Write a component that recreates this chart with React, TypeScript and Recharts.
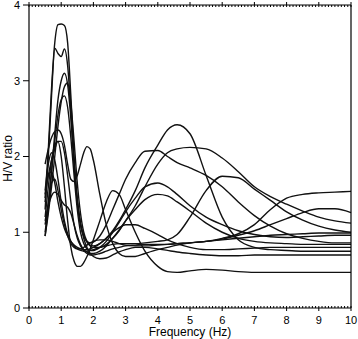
import { LineChart, Line, XAxis, YAxis } from "recharts";

const freqs = [0.5, 0.6, 0.7, 0.8, 0.9, 1.0, 1.1, 1.2, 1.3, 1.4, 1.5, 1.6, 1.7, 1.8, 1.9, 2.0, 2.2, 2.4, 2.6, 2.8, 3.0, 3.3, 3.6, 4.0, 4.3, 4.6, 5.0, 5.5, 6.0, 6.5, 7.0, 7.5, 8.0, 8.5, 9.0, 9.5, 10];

// one H/V curve per station, sampled at freqs
const st1 = [1.45, 2.1, 2.9, 3.5, 3.74, 3.75, 3.73, 3.5, 2.8, 2.0, 1.45, 1.12, 0.92, 0.8, 0.72, 0.68, 0.65, 0.66, 0.7, 0.74, 0.77, 0.8, 0.8, 0.78, 0.76, 0.74, 0.72, 0.7, 0.69, 0.69, 0.7, 0.7, 0.7, 0.7, 0.7, 0.7, 0.7];
const st2 = [1.3, 2.0, 2.8, 3.43, 3.36, 3.32, 3.42, 3.2, 2.6, 1.9, 1.4, 1.1, 0.95, 0.87, 0.83, 0.82, 0.85, 0.92, 1.02, 1.15, 1.3, 1.55, 1.85, 2.15, 2.35, 2.42, 2.3, 1.75, 1.2, 0.9, 0.8, 0.77, 0.76, 0.75, 0.75, 0.75, 0.75];
const st3 = [1.0, 1.35, 1.8, 2.3, 2.75, 3.0, 3.1, 2.95, 2.5, 1.9, 1.4, 1.1, 0.95, 0.88, 0.86, 0.87, 0.95, 1.1, 1.3, 1.5, 1.7, 1.92, 2.07, 2.08, 2.0, 1.92, 1.85, 1.75, 1.6, 1.4, 1.22, 1.08, 0.98, 0.92, 0.88, 0.86, 0.86];
const st4 = [0.95, 1.25, 1.6, 2.0, 2.4, 2.72, 2.92, 2.97, 2.7, 2.2, 1.65, 1.25, 1.0, 0.88, 0.82, 0.8, 0.8, 0.84, 0.92, 1.02, 1.15, 1.35, 1.6, 1.9, 2.05, 2.1, 2.12, 2.1, 1.98, 1.8, 1.6, 1.47, 1.37, 1.28, 1.2, 1.15, 1.12];
const st5 = [1.1, 1.4, 1.8, 2.2, 2.55, 2.75, 2.8, 2.65, 2.25, 1.75, 1.3, 1.0, 0.85, 0.78, 0.76, 0.76, 0.8, 0.88, 1.0, 1.13, 1.27, 1.45, 1.6, 1.65, 1.6, 1.5, 1.35, 1.2, 1.1, 1.02, 0.97, 0.94, 0.93, 0.94, 0.95, 0.96, 0.96];
const st6 = [1.9, 2.1, 2.25, 2.33, 2.35, 2.3, 2.15, 1.9, 1.7, 1.67, 1.75, 1.9, 2.05, 2.13, 2.1, 1.95, 1.5, 1.1, 0.85, 0.72, 0.68, 0.68, 0.72, 0.77, 0.8, 0.83, 0.86, 0.88, 0.92, 0.98, 1.1, 1.3, 1.45, 1.5, 1.52, 1.53, 1.54];
const st7 = [1.2, 1.6, 1.95, 2.15, 2.2, 2.0, 1.6, 1.15, 0.8, 0.62, 0.55, 0.55, 0.6, 0.68, 0.78, 0.9, 1.15, 1.4, 1.55, 1.5, 1.3, 1.0, 0.75, 0.55, 0.48, 0.47, 0.49, 0.51, 0.5, 0.48, 0.47, 0.47, 0.47, 0.47, 0.47, 0.47, 0.47];
const st8 = [1.15, 1.35, 1.48, 1.53, 1.5, 1.42, 1.36, 1.33, 1.25, 1.1, 0.95, 0.84, 0.77, 0.74, 0.72, 0.72, 0.75, 0.82, 0.92, 1.03, 1.15, 1.3, 1.43, 1.5, 1.48, 1.4, 1.28, 1.12, 1.0, 0.92, 0.88, 0.86, 0.85, 0.84, 0.84, 0.84, 0.84];
const st9 = [1.55, 1.9, 2.05, 1.95, 1.7, 1.4, 1.15, 0.98, 0.88, 0.82, 0.78, 0.76, 0.75, 0.75, 0.76, 0.77, 0.8, 0.82, 0.84, 0.85, 0.85, 0.85, 0.86, 0.88, 0.9, 0.97, 1.2, 1.55, 1.74, 1.72, 1.57, 1.42, 1.27, 1.16, 1.08, 1.03, 1.0];
const st10 = [1.5, 1.75, 1.95, 2.1, 2.2, 2.2, 2.05, 1.75, 1.4, 1.1, 0.92, 0.82, 0.76, 0.72, 0.7, 0.7, 0.72, 0.75, 0.78, 0.8, 0.82, 0.83, 0.84, 0.84, 0.84, 0.85, 0.86, 0.88, 0.91, 0.96, 1.02, 1.1, 1.18, 1.26, 1.31, 1.31, 1.26];
const st11 = [1.4, 1.75, 1.8, 1.65, 1.4, 1.2, 1.05, 0.95, 0.88, 0.83, 0.8, 0.78, 0.77, 0.77, 0.78, 0.8, 0.85, 0.92, 1.0, 1.06, 1.1, 1.1, 1.05, 0.97, 0.9, 0.85, 0.8, 0.77, 0.77, 0.78, 0.79, 0.8, 0.8, 0.8, 0.8, 0.8, 0.8];
const st12 = [0.95, 1.3, 1.65, 1.7, 1.55, 1.3, 1.1, 0.95, 0.85, 0.8, 0.78, 0.78, 0.8, 0.83, 0.86, 0.88, 0.9, 0.9, 0.88, 0.85, 0.83, 0.82, 0.82, 0.83, 0.84, 0.85, 0.86, 0.88, 0.9, 0.92, 0.94, 0.96, 0.97, 0.98, 0.99, 0.99, 0.99];

const stations = [st1, st2, st3, st4, st5, st6, st7, st8, st9, st10, st11, st12];

const xMajor = [0, 1, 2, 3, 4, 5, 6, 7, 8, 9, 10];
const yMajor = [0, 1, 2, 3, 4];

const xTicks = Array.from({ length: 101 }, (_, i) => i / 10);

const data = freqs.map((f, i) => {
  const row: Record<string, number> = { f };
  stations.forEach((s, k) => (row["s" + k] = s[i]));
  return row;
});

const font = "'Liberation Sans', Arial, Helvetica, sans-serif";

const isMajor = (v: number) => xMajor.includes(Math.round(v * 10) / 10);

function BottomTick(props: any) {
  const { x, y, payload } = props;
  const major = isMajor(payload.value);
  return (
    <g>
      <line x1={x} x2={x} y1={y - 2} y2={major ? y + 3 : y} stroke="#000" strokeWidth={1} />
      {major && (
        <text x={x} y={y + 16} textAnchor="middle" fontSize={11} fontFamily={font} fill="#000">
          {payload.value}
        </text>
      )}
    </g>
  );
}

function TopTick(props: any) {
  const { x, y, payload } = props;
  const major = isMajor(payload.value);
  return <line x1={x} x2={x} y1={major ? y - 3 : y} y2={y + 2} stroke="#000" strokeWidth={1} />;
}

export default function App() {
  return (
    <div style={{ position: "absolute", left: 0, top: 0 }}>
      <LineChart width={358} height={339} data={data} margin={{ top: 4, right: 0, left: 0, bottom: 0 }}>
        <XAxis
          dataKey="f"
          type="number"
          domain={[0, 10]}
          ticks={xTicks}
          interval={0}
          height={31}
          tickSize={0}
          tickMargin={0}
          tick={<BottomTick />}
          axisLine={{ stroke: "#000", strokeWidth: 1.2 }}
          label={{ value: "Frequency (Hz)", position: "insideBottom", offset: 3, fontSize: 12, fontFamily: font, fill: "#000" }}
        />
        <XAxis
          xAxisId="top"
          dataKey="f"
          orientation="top"
          type="number"
          domain={[0, 10]}
          allowDataOverflow
          ticks={xTicks}
          interval={0}
          height={1}
          tickSize={0}
          tickMargin={0}
          tick={<TopTick />}
          axisLine={{ stroke: "#000", strokeWidth: 1.2 }}
        />
        <YAxis
          type="number"
          domain={[0, 4]}
          ticks={yMajor}
          interval={0}
          width={29}
          tickSize={6}
          tickMargin={3}
          tickLine={{ stroke: "#000" }}
          axisLine={{ stroke: "#000", strokeWidth: 1.2 }}
          tick={{ fontSize: 11, fontFamily: font, fill: "#000" }}
          label={{
            content: (p: any) => {
              const vb = p.viewBox;
              const cx = vb.x + 12;
              const cy = vb.y + vb.height / 2 + 2;
              return (
                <text x={cx} y={cy} transform={`rotate(-90 ${cx} ${cy})`} textAnchor="middle" fontSize={12} fontFamily={font} fill="#000">
                  H/V ratio
                </text>
              );
            },
          }}
        />
        <YAxis
          yAxisId="right"
          orientation="right"
          type="number"
          domain={[0, 4]}
          ticks={yMajor}
          interval={0}
          width={7}
          tickSize={3}
          tick={false}
          tickLine={{ stroke: "#000" }}
          axisLine={{ stroke: "#000", strokeWidth: 1.2 }}
        />
        {stations.map((_, k) => (
          <Line
            key={k}
            dataKey={"s" + k}
            type="monotone"
            stroke="#111"
            strokeWidth={1.4}
            dot={false}
            isAnimationActive={false}
          />
        ))}
      </LineChart>
    </div>
  );
}
